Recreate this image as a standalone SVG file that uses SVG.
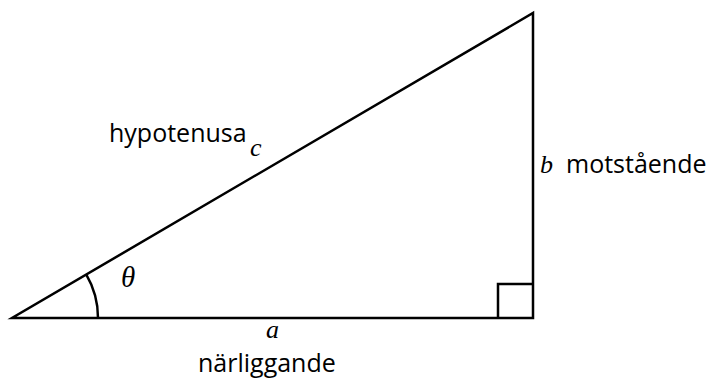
<svg xmlns="http://www.w3.org/2000/svg" width="715" height="379" viewBox="0 0 715 379">
<style>
.ln{fill:none;stroke:#000;stroke-width:2.5}
.lbl{font-family:"Open Sans","Noto Sans",sans-serif;font-size:25px;fill:#000}
.var{font-family:"Liberation Serif",serif;font-style:italic;font-size:26px;fill:#000}
</style>
<rect width="715" height="379" fill="#fff"/>
<g id="triangle">
<path class="ln" d="M12,318 L533,318 L533,13 Z"/>
</g>
<g id="angle">
<path class="ln" d="M98,318 A86,86 0 0 0 86.2,274.4"/>
<text class="var" x="121" y="287" style="font-size:29px">θ</text>
</g>
<g id="rightangle">
<path class="ln" d="M533,284 L498,284 L498,318"/>
</g>
<g id="labels">
<text class="lbl" x="109" y="142">hypotenusa</text>
<text class="var" x="250" y="156">c</text>
<text class="var" x="540" y="173">b</text>
<text class="lbl" x="566" y="173">motstående</text>
<text class="var" x="266" y="338">a</text>
<text class="lbl" x="198" y="372">närliggande</text>
</g>
</svg>
